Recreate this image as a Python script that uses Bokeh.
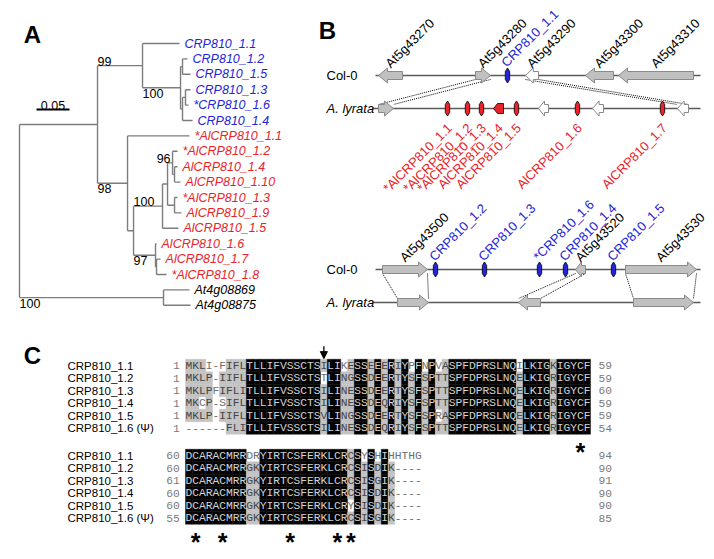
import math
from bokeh.plotting import figure
from bokeh.models import Range1d, Arrow, NormalHead
from bokeh.layouts import row, column
from bokeh.embed import file_html
from bokeh.resources import INLINE
from bokeh.core.properties import value

# ======================= DATA =======================
# ---- Panel A: neighbour-joining tree (branch lengths = substitutions/site) ----
TREE_NEWICK = (
    "(((CRP810_1.1:0.0561,((CRP810_1.2:0.0076,CRP810_1.5:0.0121):0.0030,"
    "((CRP810_1.3:0.0076,*CRP810_1.6:0.0045):0.0045,CRP810_1.4:0.0152):0.0030)100:0.0576)99:0.0682,"
    "(*AlCRP810_1.1:0.0939,((((*AlCRP810_1.2:0.0076,(AlCRP810_1.4:0.0045,AlCRP810_1.10:0.0091):0.0030)96:0.0076,"
    "(*AlCRP810_1.3:0.0045,AlCRP810_1.9:0.0106):0.0106):0.0076,AlCRP810_1.5:0.0242)100:0.0439,"
    "(AlCRP810_1.6:0.0015,(AlCRP810_1.7:0.0061,*AlCRP810_1.8:0.0152):0.0015)97:0.0333):0.0091)98:0.0455):0.1182,"
    "(At4g08869:0.0394,At4g08875:0.0409)100:0.2182);"
)
BOOT_PLACEMENT = ["below", "above", "left", "above", "below", "below", "below"]
SCALE_BAR_LEN = 0.05

# ---- Panel B: syntenic regions (map units along the drawn segment) ----
B_ROW_NAMES = ["Col-0", "A. lyrata"]

B1_LINE_START = [375, 372]
B1_LINE_END = [700, 700]
B1_COL_GENES = ["At5g43270", "At5g43280", "At5g43290", "At5g43300", "At5g43310"]
B1_COL_START = [378, 475, 525, 585, 618]
B1_COL_END = [402, 490, 538, 613, 693]
B1_COL_STRAND = [-1, 1, -1, -1, -1]
B1_COL_KIND = ["grey", "grey", "white", "grey", "grey"]
B1_COL_CRP = ["CRP810_1.1"]
B1_COL_CRP_POS = [507]
B1_LY_START = [378, 538, 592, 677]
B1_LY_END = [393, 548, 603, 688]
B1_LY_STRAND = [1, -1, -1, -1]
B1_LY_KIND = ["grey", "white", "white", "white"]
B1_LY_CRP = ["*AlCRP810_1.1", "*AlCRP810_1.2", "*AlCRP810_1.3", "AlCRP810_1.4",
             "AlCRP810_1.5", "AlCRP810_1.6", "AlCRP810_1.7"]
B1_LY_CRP_POS = [447, 467, 481, 498, 516, 577, 662]
B1_LY_CRP_LEN = [0, 0, 0, 10, 0, 0, 0]
B1_LINKS = [(1, 0), (2, 3)]

B2_LINE_START = [375, 372]
B2_LINE_END = [700, 700]
B2_COL_GENES = ["At5g43500", "At5g43520", "At5g43530"]
B2_COL_START = [382, 575, 625]
B2_COL_END = [427, 585, 696]
B2_COL_STRAND = [1, -1, 1]
B2_COL_KIND = ["grey", "grey", "grey"]
B2_COL_CRP = ["CRP810_1.2", "CRP810_1.3", "*CRP810_1.6", "CRP810_1.4", "CRP810_1.5"]
B2_COL_CRP_POS = [435, 484, 539, 565, 613]
B2_LY_START = [397, 518, 633]
B2_LY_END = [428, 540, 693]
B2_LY_STRAND = [1, -1, 1]
B2_LY_KIND = ["grey", "grey", "grey"]
B2_LINKS = [(0, 0), (1, 1), (2, 2)]

# ---- Panel C: protein alignment ----
SEQ_NAMES = ["CRP810_1.1", "CRP810_1.2", "CRP810_1.3", "CRP810_1.4", "CRP810_1.5", "CRP810_1.6 (\u03a8)"]
BLOCK1_SEQ = [
    "MKLI-FIFLTLLIFVSSCTSILIKESSEEERIYPFNPVASPFDPRSLNQILKIGKIGYCF",
    "MKLP-IIFLTLLIFVSSCTSTLINGSSDEERTYSFSPTTSPFDPRSLNQELKIGRIGYCF",
    "MKLPFIFLITLLIFVSSCTSILINESSDEERTYSFSPTTSPFDPRSLNQELKIGRIGYCF",
    "MKCP-SIFLTLLIFVSSCTSILINESSDEQRIYSFSPTTSPFDPRSLNQELKIGRIGYCF",
    "MKLP-IIFLTLLIFVSSCTSVLINGSSDEERTYSFSPRASPFDPRSLNQELKIGRIGYCF",
    "------FLITLLIFVSSCTSILINESSDEQRIYSFSPTTSPFDPRSLNQELKIGRIGYCF",
]
# b = identical (black), g = similar (grey), w = unshaded
BLOCK1_SHADE = [
    "gggwwwggg|bbbbbbbbbbb|g|bb|w|g|bb|g|b|g|b|g|b|w|b|w|b|w|g|bbbbbbbbbb|w|bbbb|g|bbbbb",
    "ggggwgggg|bbbbbbbbbbb|w|bb|g|g|bb|g|b|g|b|g|b|g|b|g|b|g|g|bbbbbbbbbb|g|bbbb|g|bbbbb",
    "ggggwgggg|bbbbbbbbbbb|g|bb|g|g|bb|g|b|g|b|g|b|g|b|g|b|g|g|bbbbbbbbbb|g|bbbb|g|bbbbb",
    "ggwgwwggg|bbbbbbbbbbb|g|bb|g|g|bb|g|b|g|b|g|b|g|b|g|b|g|g|bbbbbbbbbb|g|bbbb|g|bbbbb",
    "ggggwgggg|bbbbbbbbbbb|g|bb|g|g|bb|g|b|g|b|g|b|g|b|g|b|w|g|bbbbbbbbbb|g|bbbb|g|bbbbb",
    "wwwwwwggg|bbbbbbbbbbb|g|bb|g|g|bb|g|b|g|b|g|b|g|b|g|b|g|g|bbbbbbbbbb|g|bbbb|g|bbbbb",
]
BLOCK1_START = [1, 1, 1, 1, 1, 1]
BLOCK1_END = [59, 59, 60, 59, 59, 54]
BLOCK2_SEQ = [
    "DCARACMRRDRYIRTCSFERKLCRCSYSHIHHTHG",
    "DCARACMRRGKYIRTCSFERKLCRCSISDIK----",
    "DCARACMRRGKYIRTCSFERKLCRCSISGIK----",
    "DCARACMRRGKYIRTCSFERKLCRCSISDIK----",
    "DCARACMRRGKYIRTCSFERKLCRYSISDIK----",
    "DCARACMRRGKYIRTCSFERKLCRCSISGIK----",
]
BLOCK2_SHADE = [
    "bbbbbbbbb|ww|bbbbbbbbbbbbb|g|b|w|b|w|b|w|wwww",
    "bbbbbbbbb|gg|bbbbbbbbbbbbb|g|b|g|b|g|b|g|wwww",
    "bbbbbbbbb|gg|bbbbbbbbbbbbb|g|b|g|b|g|b|g|wwww",
    "bbbbbbbbb|gg|bbbbbbbbbbbbb|g|b|g|b|g|b|g|wwww",
    "bbbbbbbbb|gg|bbbbbbbbbbbbb|w|b|g|b|g|b|g|wwww",
    "bbbbbbbbb|gg|bbbbbbbbbbbbb|g|b|g|b|g|b|g|wwww",
]
BLOCK2_START = [60, 60, 61, 60, 60, 55]
BLOCK2_END = [94, 90, 91, 90, 90, 85]
ARROW_COL = 20
BLOCK1_CYS_MARK = [58]
BLOCK2_CYS_MARK = [1, 5, 15, 22, 24]

# ======================= STYLE =======================
SANS = value("Liberation Sans")
MONO = value("Liberation Mono")
BLUE = "#2424d6"
RED = "#e8242a"
TREE_LINE = "#7d7d7d"
GENE_FILL = {"grey": "#c0c0c0", "white": "#ffffff"}
GENE_EDGE = "#8a8a8a"
SHADE_BG = {"b": "#000000", "g": "#c2c2c2"}
SHADE_FG = {"b": "#d4d4d4", "g": "#454545", "w": "#6e6e6e"}


def make_fig(w, h, xr, yr):
    p = figure(width=w, height=h, x_range=Range1d(*xr), y_range=Range1d(*yr),
               output_backend="svg", toolbar_location=None, min_border=0,
               x_axis_location=None, y_axis_location=None)
    p.xgrid.grid_line_color = None
    p.ygrid.grid_line_color = None
    p.outline_line_color = None
    return p


# ======================= PANEL A =======================
def parse_newick(s):
    pos = 0

    def node():
        nonlocal pos
        n = {"children": [], "name": "", "length": 0.0}
        if s[pos] == "(":
            pos += 1
            while True:
                n["children"].append(node())
                if s[pos] == ",":
                    pos += 1
                else:
                    pos += 1  # ')'
                    break
        st = pos
        while s[pos] not in ":,);":
            pos += 1
        n["name"] = s[st:pos]
        if s[pos] == ":":
            pos += 1
            st = pos
            while s[pos] not in ",);":
                pos += 1
            n["length"] = float(s[st:pos])
        return n

    return node()


tree = parse_newick(TREE_NEWICK)
leaves, hsegs, vsegs, boots = [], [], [], []


def layout(n, parent_x):
    n["x"] = parent_x + n["length"]
    if not n["children"]:
        n["y"] = len(leaves)
        leaves.append(n)
    else:
        for c in n["children"]:
            layout(c, n["x"])
        n["y"] = 0.5 * (n["children"][0]["y"] + n["children"][-1]["y"])
        vsegs.append((n["x"], n["children"][0]["y"], n["children"][-1]["y"]))
        if n["name"]:
            boots.append((n["name"], parent_x, n["x"], n["y"]))
    if n is not tree:
        hsegs.append((parent_x, n["x"], n["y"]))


layout(tree, 0.0)

PXU = 660.0       # pixels per substitution unit
LEAF_PX = 15.4    # pixels per leaf
pA = make_fig(300, 320, (-19 / PXU, 281 / PXU), (277 / LEAF_PX, -43 / LEAF_PX))
pA.segment(x0=[h[0] for h in hsegs], y0=[h[2] for h in hsegs], x1=[h[1] for h in hsegs],
           y1=[h[2] for h in hsegs], line_color=TREE_LINE, line_width=1.4)
pA.segment(x0=[v[0] for v in vsegs], y0=[v[1] for v in vsegs], x1=[v[0] for v in vsegs],
           y1=[v[2] for v in vsegs], line_color=TREE_LINE, line_width=1.4)


def leaf_color(name):
    nm = name.lstrip("*")
    if nm.startswith("CRP"):
        return BLUE
    if nm.startswith("Al"):
        return RED
    return "black"


pA.text(x=[l["x"] for l in leaves], y=[l["y"] for l in leaves], text=[l["name"] for l in leaves],
        text_color=[leaf_color(l["name"]) for l in leaves], x_offset=5,
        text_font=SANS, text_font_style="italic", text_font_size="12.5px", text_baseline="middle")

for (lab, px_, nx, ny), place in zip(boots, BOOT_PLACEMENT):
    if place == "above":
        pA.text(x=[px_], y=[ny], text=[lab], text_align="left", text_baseline="bottom", y_offset=0,
                text_font=SANS, text_font_size="12.5px", text_color="black")
    elif place == "below":
        pA.text(x=[px_], y=[ny], text=[lab], text_align="left", text_baseline="top", y_offset=1,
                text_font=SANS, text_font_size="12.5px", text_color="black")
    else:
        pA.text(x=[nx], y=[ny], text=[lab], text_align="right", text_baseline="bottom", x_offset=-2,
                y_offset=0, text_font=SANS, text_font_size="12.5px", text_color="black")

sb_x0, sb_y = 17 / PXU, 66 / LEAF_PX
pA.segment(x0=[sb_x0], y0=[sb_y], x1=[sb_x0 + SCALE_BAR_LEN], y1=[sb_y], line_color="black", line_width=2)
pA.text(x=[sb_x0 + SCALE_BAR_LEN / 2], y=[sb_y], text=["%.2f" % SCALE_BAR_LEN], text_align="center",
        text_baseline="alphabetic", y_offset=-4, text_font=SANS, text_font_size="12.5px")
pA.text(x=[13 / PXU], y=[-9 / LEAF_PX], text=["A"], text_align="center", text_baseline="middle",
        text_font=SANS, text_font_style="bold", text_font_size="24px")

# ======================= PANEL B =======================
ROW_PX = 33.0


def gene_poly(s, e, strand, r):
    hl = min(9.0, 0.6 * (e - s))
    bh, hh = 4.0 / ROW_PX, 7.5 / ROW_PX
    if strand > 0:
        xs = [s, e - hl, e - hl, e, e - hl, e - hl, s]
    else:
        xs = [e, s + hl, s + hl, s, s + hl, s + hl, e]
    ys = [r - bh, r - bh, r - hh, r, r + hh, r + bh, r + bh]
    return xs, ys


def crp_poly(x, r, L):
    if L == 0:
        w, h1, h2 = 2.2, 4.0 / ROW_PX, 7.5 / ROW_PX
        return [x, x + w, x + w, x, x - w, x - w], [r - h2, r - h1, r + h1, r + h2, r + h1, r - h1]
    h = 5.0 / ROW_PX
    return ([x + L / 2, x - L / 2 + 4, x - L / 2, x - L / 2 + 4, x + L / 2],
            [r - h, r - h, r, r + h, r + h])


def draw_map(p, line_s, line_e, cg, cs, ce, cst, ck, ccrp, ccrp_pos,
             ls, le, lst, lk, lcrp, lcrp_pos, lcrp_len, links):
    p.segment(x0=line_s, y0=[0, 1], x1=line_e, y1=[0, 1], line_color="#5a5a5a", line_width=1.6)
    p.text(x=[326], y=[0], text=[B_ROW_NAMES[0]], text_baseline="middle", text_font=SANS,
           text_font_size="13px")
    p.text(x=[326], y=[1], text=[B_ROW_NAMES[1]], text_baseline="middle", text_font=SANS,
           text_font_style="italic", text_font_size="13px")
    bh = 4.0 / ROW_PX
    x0, x1 = [], []
    for a, b in links:
        x0 += [cs[a], ce[a]]
        x1 += [ls[b], le[b]]
    p.segment(x0=x0, y0=[bh] * len(x0), x1=x1, y1=[1 - bh] * len(x1), line_color="black",
              line_width=1, line_dash="1 1")
    xs, ys, fc = [], [], []
    for s, e, st, k in zip(cs, ce, cst, ck):
        a, b = gene_poly(s, e, st, 0)
        xs.append(a); ys.append(b); fc.append(GENE_FILL[k])
    for s, e, st, k in zip(ls, le, lst, lk):
        a, b = gene_poly(s, e, st, 1)
        xs.append(a); ys.append(b); fc.append(GENE_FILL[k])
    p.patches(xs=xs, ys=ys, fill_color=fc, line_color=GENE_EDGE, line_width=1)
    mx, my, mc = [], [], []
    for x in ccrp_pos:
        a, b = crp_poly(x, 0, 0)
        mx.append(a); my.append(b); mc.append(BLUE)
    for x, L in zip(lcrp_pos, lcrp_len):
        a, b = crp_poly(x, 1, L)
        mx.append(a); my.append(b); mc.append(RED)
    if mx:
        p.patches(xs=mx, ys=my, fill_color=mc, line_color="black", line_width=0.8)
    p.text(x=[(s + e) / 2 for s, e in zip(cs, ce)], y=[0] * len(cs), text=cg, angle=math.pi / 4,
           text_align="left", text_baseline="alphabetic", x_offset=-3, y_offset=-10,
           text_font=SANS, text_font_size="13px", text_color="black")
    if ccrp:
        p.text(x=ccrp_pos, y=[0] * len(ccrp), text=ccrp, angle=math.pi / 4, text_align="left",
               text_baseline="alphabetic", x_offset=-4, y_offset=-11, text_font=SANS,
               text_font_size="13px", text_color=BLUE)
    if lcrp:
        p.text(x=lcrp_pos, y=[1] * len(lcrp), text=lcrp, angle=math.pi / 4, text_align="right",
               text_baseline="top", x_offset=-3, y_offset=12, text_font=SANS,
               text_font_size="13px", text_color=RED)


pB1 = make_fig(414, 192, (300, 714), (117 / ROW_PX, -75 / ROW_PX))
draw_map(pB1, B1_LINE_START, B1_LINE_END, B1_COL_GENES, B1_COL_START, B1_COL_END, B1_COL_STRAND,
         B1_COL_KIND, B1_COL_CRP, B1_COL_CRP_POS, B1_LY_START, B1_LY_END, B1_LY_STRAND, B1_LY_KIND,
         B1_LY_CRP, B1_LY_CRP_POS, B1_LY_CRP_LEN, B1_LINKS)
pB1.text(x=[327], y=[-45 / ROW_PX], text=["B"], text_align="center", text_baseline="middle",
         text_font=SANS, text_font_style="bold", text_font_size="24px")

pB2 = make_fig(414, 128, (300, 714), (51 / ROW_PX, -77 / ROW_PX))
draw_map(pB2, B2_LINE_START, B2_LINE_END, B2_COL_GENES, B2_COL_START, B2_COL_END, B2_COL_STRAND,
         B2_COL_KIND, B2_COL_CRP, B2_COL_CRP_POS, B2_LY_START, B2_LY_END, B2_LY_STRAND, B2_LY_KIND,
         [], [], [], B2_LINKS)

# ======================= PANEL C =======================
CW = 6.75   # px per residue column
RH = 12.5   # px per row
BLOCK2_OFFSET = 7.2
pC = make_fig(714, 239, (-185 / CW, 529 / CW), (194 / RH, -45 / RH))


def draw_block(seqs, shades, starts, ends, y0):
    rx, ry, rc, tx, ty, tt, tc = [], [], [], [], [], [], []
    for r, (seq, sh) in enumerate(zip(seqs, shades)):
        sh = sh.replace("|", "")
        for c, (ch, s) in enumerate(zip(seq, sh)):
            if s in SHADE_BG:
                rx.append(c + 0.5); ry.append(y0 + r); rc.append(SHADE_BG[s])
            tx.append(c + 0.5); ty.append(y0 + r); tt.append(ch); tc.append(SHADE_FG[s])
    pC.rect(x=rx, y=ry, width=1.0, height=1.0, fill_color=rc, line_color=rc, line_width=0.4)
    pC.text(x=tx, y=ty, text=tt, text_color=tc, text_align="center", text_baseline="middle",
            text_font=MONO, text_font_size="11.25px")
    ys = [y0 + r for r in range(len(seqs))]
    pC.text(x=[-118 / CW] * len(seqs), y=ys, text=SEQ_NAMES, text_baseline="middle",
            text_font=SANS, text_font_size="11.5px", text_color="black")
    pC.text(x=[-0.85] * len(seqs), y=ys, text=[str(v) for v in starts], text_align="right",
            text_baseline="middle", text_font=MONO, text_font_size="11.25px", text_color="#7a7a7a")
    pC.text(x=[413 / CW] * len(seqs), y=ys, text=[str(v) for v in ends], text_align="left",
            text_baseline="middle", text_font=MONO, text_font_size="11.25px", text_color="#7a7a7a")


draw_block(BLOCK1_SEQ, BLOCK1_SHADE, BLOCK1_START, BLOCK1_END, 0)
draw_block(BLOCK2_SEQ, BLOCK2_SHADE, BLOCK2_START, BLOCK2_END, BLOCK2_OFFSET)

ast_x = [c + 0.5 for c in BLOCK1_CYS_MARK] + [c + 0.5 for c in BLOCK2_CYS_MARK]
ast_y = [6.4] * len(BLOCK1_CYS_MARK) + [BLOCK2_OFFSET + 6.4] * len(BLOCK2_CYS_MARK)
pC.text(x=ast_x, y=ast_y, text=["*"] * len(ast_x), text_align="center", text_baseline="top",
        y_offset=-8, text_font=SANS, text_font_style="bold", text_font_size="25px", text_color="black")
pC.add_layout(Arrow(end=NormalHead(size=7, fill_color="black", line_color="black"),
                    x_start=ARROW_COL + 0.5, y_start=-1.55, x_end=ARROW_COL + 0.5, y_end=-0.55,
                    line_color="black", line_width=1.3))
pC.text(x=[-153 / CW], y=[-0.8], text=["C"], text_align="center", text_baseline="middle",
        text_font=SANS, text_font_style="bold", text_font_size="24px")

page = column(row(pA, column(pB1, pB2, spacing=0), spacing=0), pC, spacing=0)
open("out.html", "w").write(file_html(page, INLINE))
